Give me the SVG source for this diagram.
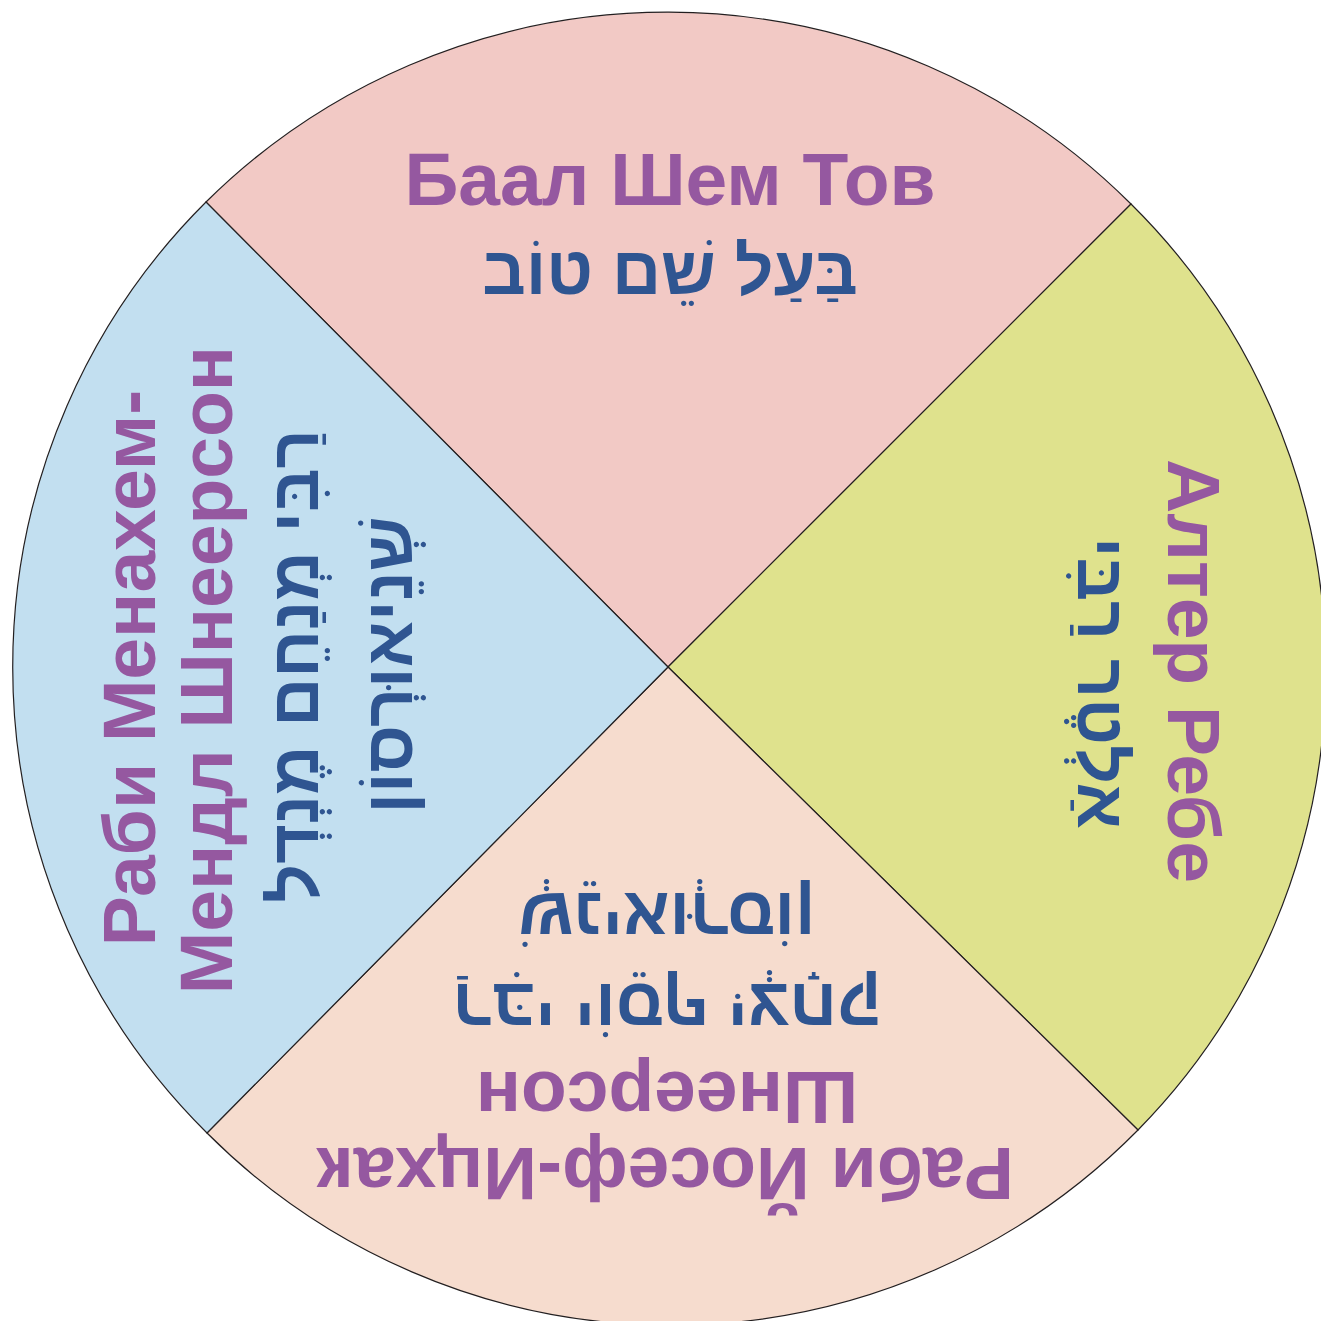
<svg xmlns="http://www.w3.org/2000/svg" width="1321" height="1321" viewBox="0 0 1321 1321">
<style>
.w{stroke:#231F20;stroke-width:1.2}
.ru{font-family:"Liberation Sans",Arial,sans-serif;font-weight:bold;font-size:75px;fill:#9558A0;text-anchor:middle}
.he{font-family:"Liberation Sans",Arial,sans-serif;font-weight:bold;font-size:68px;fill:#2F5591;text-anchor:middle}
</style>
<rect width="1321" height="1321" fill="#FFFFFF"/>
<g id="wedge-top">
<path class="w" fill="#F2C9C5" d="M668,667 L206,202 A656,656 0 0,1 1131,204 Z"/>
<text class="ru" x="670" y="205">Баал Шем Тов</text>
<text class="he" x="670" y="294">בַּעַל שֵׁם טוֹב</text>
</g>
<g id="wedge-right">
<path class="w" fill="#DFE28D" d="M668,667 L1131,204 A656,656 0 0,1 1138,1130 Z"/>
<text class="ru" transform="translate(1168,671) rotate(90)">Алтер Ребе</text>
<text class="he" transform="translate(1078,683) rotate(90)">אַלְטֶר רַבִּי</text>
</g>
<g id="wedge-bottom">
<path class="w" fill="#F6DCCE" d="M668,667 L1138,1130 A656,656 0 0,1 207,1133 Z"/>
<text class="ru" transform="translate(665,1148) rotate(180)">Раби Йосеф-Ицхак</text>
<text class="ru" transform="translate(667,1072) rotate(180)">Шнеерсон</text>
<text class="he" transform="translate(667,984) rotate(180)">רַבִּי יוֹסֵף יִצְחָק</text>
<text class="he" transform="translate(667,893) rotate(180)">שְׁנֵיאוּרְסוֹן</text>
</g>
<g id="wedge-left">
<path class="w" fill="#C2DFF0" d="M668,667 L207,1133 A656,656 0 0,1 206,202 Z"/>
<text class="ru" transform="translate(155,668) rotate(-90)">Раби Менахем-</text>
<text class="ru" transform="translate(232,670) rotate(-90)">Мендл Шнеерсон</text>
<text class="he" transform="translate(318,666) rotate(-90)">רַבִּי מְנַחֵם מֶנְדְל</text>
<text class="he" transform="translate(412,665) rotate(-90)">שְׁנֵיאוּרְסוֹן</text>
</g>
</svg>
